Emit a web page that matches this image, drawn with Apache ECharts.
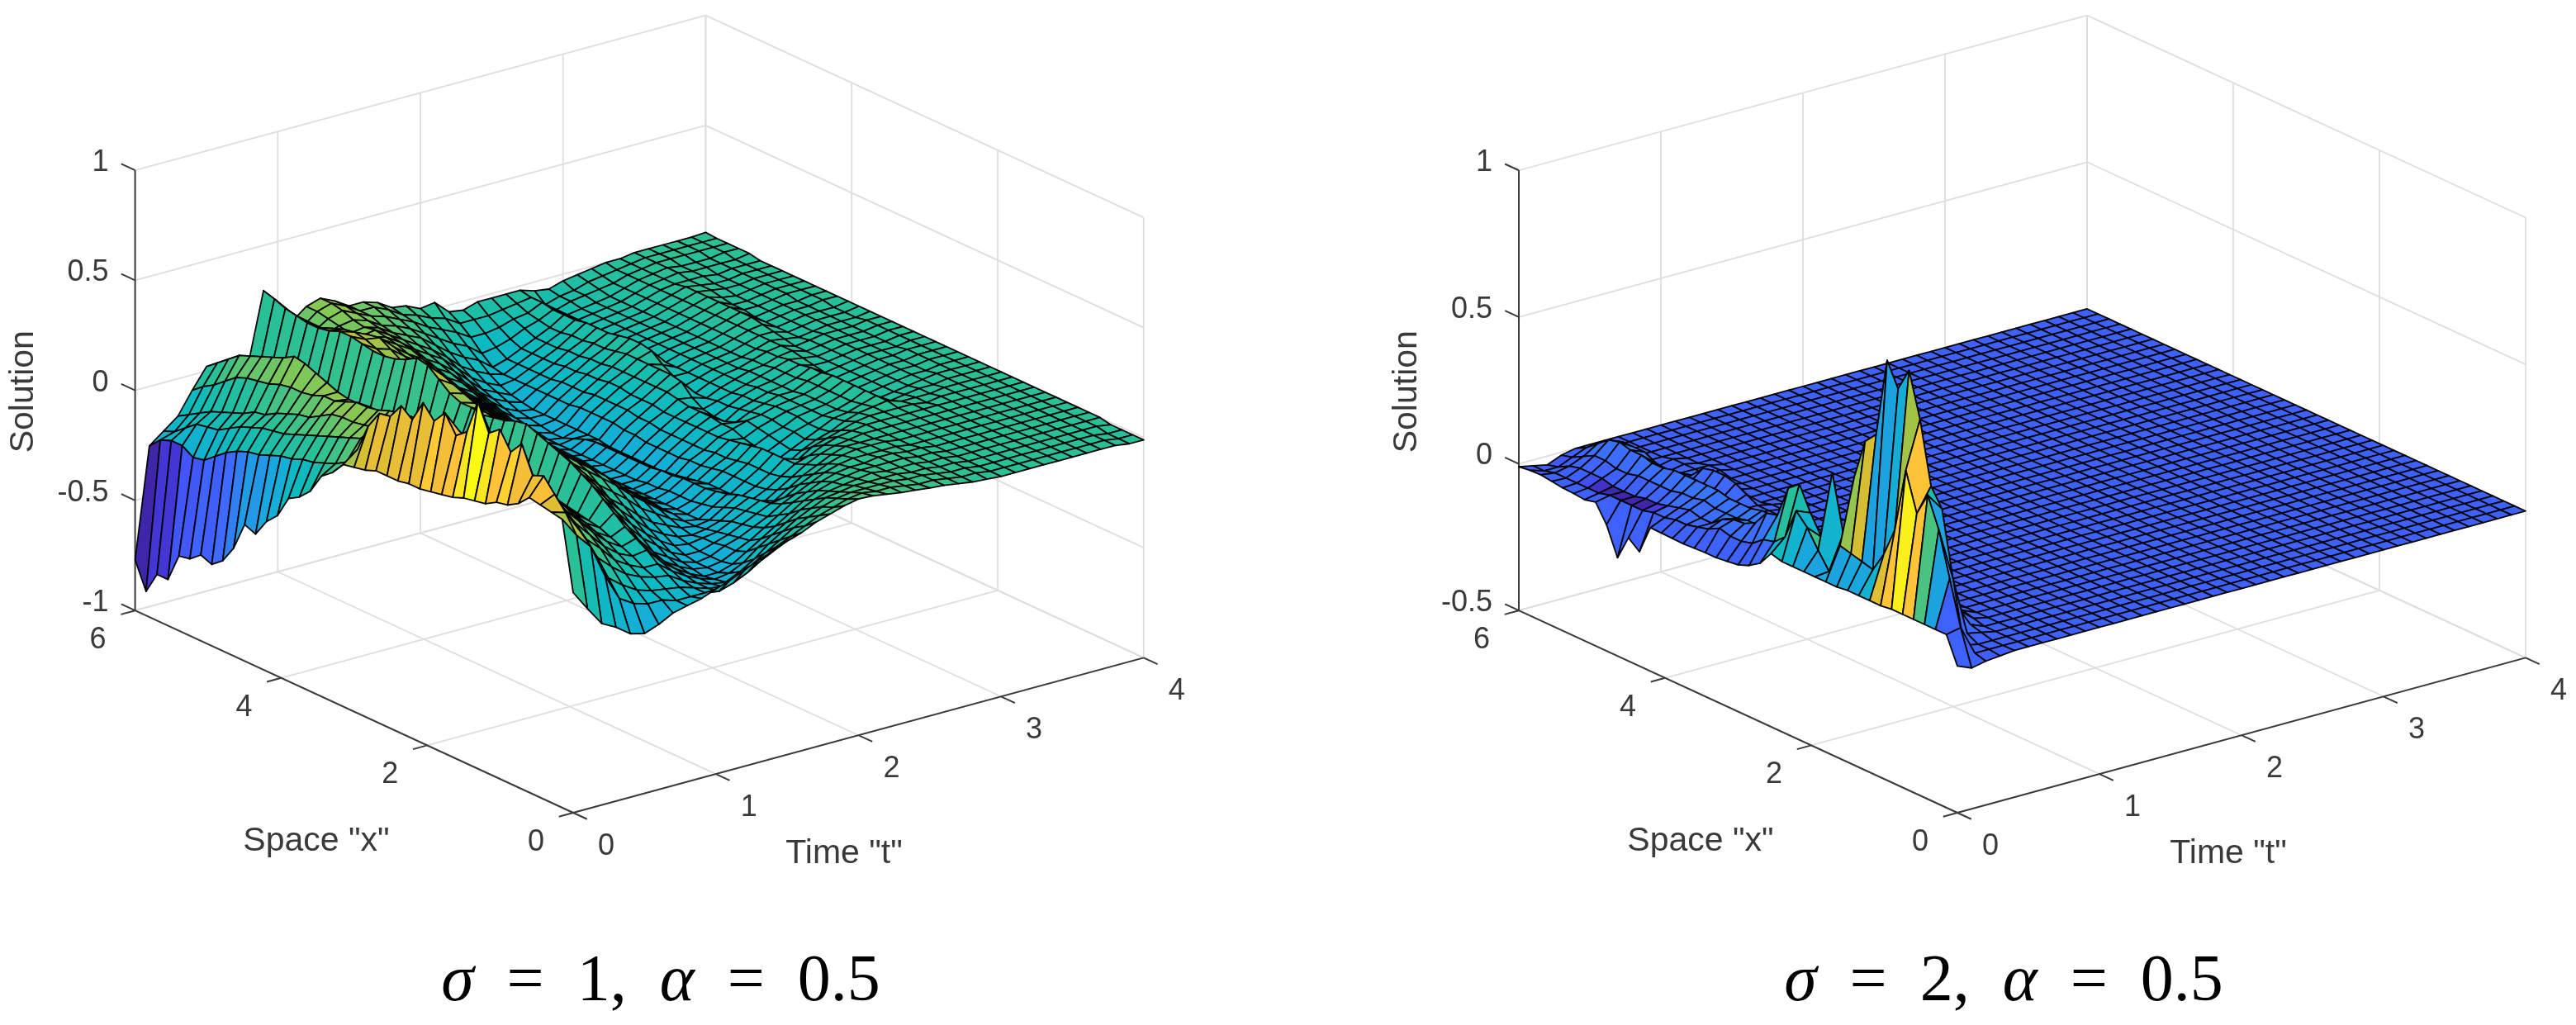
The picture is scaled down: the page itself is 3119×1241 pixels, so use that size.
<!DOCTYPE html>
<html>
<head>
<meta charset="utf-8">
<title>Solution surfaces</title>
<script src="https://cdn.jsdelivr.net/npm/echarts@6/dist/echarts.min.js"></script>
<style>
  html, body { margin: 0; background: #fff; }
  #chart { width: 3119px; height: 1241px; }
</style>
</head>
<body>
<div id="chart"></div>
<script>
// mesh positions
const timeSteps = [0,.1,.2,.3,.4,.5,.6,.7,.8,.9,1,1.1,1.2,1.3,1.4,1.5,1.6,1.7,1.8,1.9,2,2.1,2.2,2.3,2.4,2.5,2.6,2.7,2.8,2.9,3,3.1,3.2,3.3,3.4,3.5,3.6,3.7,3.8,3.9,4];
const spaceSteps = [0,.15,.3,.45,.6,.75,.9,1.05,1.2,1.35,1.5,1.65,1.8,1.95,2.1,2.25,2.4,2.55,2.7,2.85,3,3.15,3.3,3.45,3.6,3.75,3.9,4.05,4.2,4.35,4.5,4.65,4.8,4.95,5.1,5.25,5.4,5.55,5.7,5.85,6];

const timeTicks = [0, 1, 2, 3, 4];
const spaceTicks = [0, 2, 4, 6];
const solutionTicksA = [-1, -0.5, 0, 0.5, 1];
const solutionTicksB = [-0.5, 0, 0.5, 1];

// sigma = 1: one row per time step, columns run along space
const solutionA = [
[0,.31,.32,.33,.34, .29,.26,.25,.22,.21, .2,.18,.17,.16,.15, .15,.14,.14,.14,.12, .11,.1,.04,0,-.09, -.14,-.17,-.27,-.32,-.4, -.38,-.51,-.59,-.63,-.61, -.65,-.66,-.79,-.79,-.89, -.77],
[-.09,.22,.3,.36,.42, .4,.52,.46,.54,.5, .62,.46,.42,.5,.44, .5,.4,.44,.37,.36, .28,.15,.07,.04,.02, 0,-.01,-.03,-.04,-.06, -.08,-.09,-.11,-.14,-.18, -.22,-.23,-.2,-.2,-.22, -.27],
[-.175,.15,.2,.24,.28, .3,.32,.34,.36,.4, .44,.42,.38,.4,.36, .32,.3,.3,.28,.25, .2,.17,.16,.14,.12, .1,.08,.06,.04,.02, .01,0,-.02,-.04,-.07, -.1,-.11,-.12,-.16,-.2, -.22],
[-.21,0,.06,.12,.18, .22,.24,.27,.3,.32, .35,.33,.34,.3,.3, .28,.27,.27,.26,.24, .22,.21,.19,.18,.17, .17,.16,.13,.1,.09, .07,.05,.02,.01,-.02, -.04,-.06,-.08,-.11,-.14, -.17],
[-.257,-.12,-.05,.02,.08, .13,.17,.2,.22,.24, .25,.26,.26,.27,.28, .28,.28,.29,.28,.27, .27,.26,.25,.23,.22, .22,.2,.18,.18,.16, .15,.15,.14,.12,.11, .1,.08,.04,0,-.03, -.07],
[-.274,-.16,-.1,-.04,.02, .06,.1,.13,.15,.17, .18,.19,.2,.21,.22, .22,.21,.21,.2,.2, .19,.18,.18,.17,.17, .18,.17,.17,.18,.2, .22,.24,.25,.22,.2, .18,.16,.14,.1,.06, .02],
[-.25,-.18,-.14,-.09,-.05, -.01,.03,.05,.07,.09, .1,.11,.12,.12,.13, .13,.13,.12,.12,.11, .11,.1,.1,.1,.1, .1,.11,.1,.1,.11, .12,.13,.13,.12,.11, .1,.09,.08,.05,.03, .01],
[-.216,-.18,-.16,-.12,-.09, -.06,-.03,-.01,.01,.03, .04,.05,.06,.06,.06, .06,.06,.06,.05,.05, .05,.05,.05,.05,.05, .05,.05,.05,.05,.05, .05,.06,.06,.05,.05, .04,.04,.03,.02,.01, 0],
[-.2,-.2,-.17,-.14,-.12, -.09,-.07,-.05,-.03,-.02, -.01,0,.01,.01,.02, .02,.02,.02,.02,.02, .02,.03,.03,.03,.03, .03,.03,.03,.03,.02, .02,.02,.02,.02,.01, .01,.01,.01,0,0, 0],
[-.185,-.2,-.18,-.15,-.12, -.08,-.05,-.02,.02,.06, .1,.13,.16,.18,.2, .22,.24,.23,.21,.2, .19,.2,.2,.22,.26, .3,.31,.28,.26,.25, .25,.26,.27,.27,.25, .24,.24,.25,.26,.28, .295],
[-.16,-.2,-.2,-.19,-.17, -.15,-.13,-.1,-.06,-.02, .02,.06,.09,.11,.13, .14,.15,.15,.15,.15, .15,.16,.18,.2,.22, .24,.25,.24,.22,.2, .2,.22,.24,.25,.24, .22,.2,.2,.2,.21, .21],
[-.137,-.21,-.22,-.22,-.21, -.2,-.19,-.17,-.13,-.09, -.05,-.02,.02,.06,.08, .09,.1,.1,.1,.1, .1,.11,.12,.13,.15, .16,.18,.18,.17,.17, .17,.2,.23,.22,.2, .18,.15,.13,.12,.12, .12],
[-.11,-.19,-.23,-.24,-.24, -.24,-.23,-.21,-.18,-.15, -.11,-.07,-.03,.01,.03, .04,.05,.05,.05,.05, .05,.06,.07,.08,.09, .1,.12,.13,.13,.13, .13,.15,.17,.18,.17, .15,.14,.15,.16,.17, .17],
[-.08,-.16,-.21,-.25,-.26, -.27,-.26,-.25,-.23,-.2, -.17,-.13,-.08,-.04,-.02, -.01,0,0,0,0, 0,.01,.02,.03,.04, .05,.06,.07,.07,.08, .09,.11,.12,.14,.15, .16,.15,.16,.18,.19, .19],
[-.06,-.12,-.17,-.22,-.25, -.27,-.27,-.27,-.26,-.24, -.21,-.18,-.14,-.1,-.08, -.07,-.06,-.06,-.06,-.06, -.06,-.05,-.04,-.03,-.02, -.01,0,.01,.02,.03, .04,.06,.08,.1,.11, .12,.13,.14,.15,.16, .16],
[-.03,-.08,-.13,-.18,-.22, -.25,-.26,-.26,-.26,-.25, -.24,-.21,-.18,-.15,-.14, -.13,-.12,-.12,-.12,-.12, -.12,-.11,-.1,-.09,-.08, -.07,-.06,-.05,-.04,-.03, -.02,0,.02,.04,.06, .08,.09,.1,.12,.12, .12],
[-.01,-.05,-.09,-.13,-.17, -.21,-.23,-.23,-.24,-.24, -.25,-.24,-.22,-.2,-.19, -.18,-.18,-.18,-.18,-.18, -.18,-.17,-.16,-.15,-.14, -.13,-.12,-.11,-.1,-.08, -.06,-.04,-.02,0,.02, .04,.06,.08,.1,.12, .12],
[.02,-.02,-.05,-.09,-.13, -.17,-.2,-.21,-.22,-.23, -.24,-.25,-.25,-.24,-.24, -.23,-.23,-.23,-.23,-.23, -.23,-.22,-.21,-.2,-.2, -.19,-.18,-.17,-.16,-.14, -.12,-.1,-.08,-.05,-.02, 0,.03,.05,.07,.09, .1],
[.04,.01,-.02,-.05,-.09, -.13,-.16,-.18,-.19,-.2, -.22,-.24,-.26,-.26,-.26, -.26,-.26,-.26,-.26,-.26, -.26,-.26,-.25,-.25,-.25, -.24,-.23,-.22,-.21,-.2, -.18,-.16,-.14,-.11,-.08, -.05,-.02,.01,.04,.05, .06],
[.06,.03,.01,-.02,-.05, -.09,-.12,-.15,-.16,-.17, -.18,-.2,-.22,-.23,-.24, -.24,-.24,-.25,-.25,-.26, -.26,-.26,-.26,-.26,-.26, -.26,-.26,-.26,-.25,-.24, -.23,-.21,-.19,-.17,-.14, -.11,-.07,-.03,0,.03, .05],
[.073,.05,.03,.01,-.02, -.05,-.08,-.11,-.13,-.14, -.15,-.16,-.18,-.19,-.2, -.2,-.2,-.21,-.21,-.22, -.22,-.22,-.22,-.22,-.22, -.23,-.25,-.27,-.27,-.26, -.25,-.24,-.22,-.2,-.18, -.15,-.11,-.07,-.03,0, .02],
[.07,.06,.04,.02,0, -.02,-.05,-.08,-.12,-.16, -.19,-.2,-.21,-.22,-.22, -.22,-.23,-.24,-.25,-.26, -.26,-.26,-.26,-.26,-.26, -.25,-.25,-.25,-.25,-.25, -.25,-.25,-.24,-.23,-.21, -.18,-.14,-.1,-.06,-.02, .03],
[.06,.05,.04,.03,.01, 0,-.02,-.05,-.08,-.12, -.15,-.17,-.18,-.18,-.18, -.18,-.19,-.2,-.2,-.21, -.21,-.21,-.21,-.2,-.2, -.19,-.19,-.19,-.19,-.2, -.2,-.2,-.2,-.2,-.2, -.2,-.19,-.15,-.1,-.06, -.03],
[.05,.05,.04,.03,.02, .01,0,-.02,-.05,-.08, -.11,-.13,-.14,-.14,-.14, -.15,-.16,-.16,-.17,-.17, -.17,-.17,-.17,-.16,-.16, -.15,-.15,-.15,-.15,-.16, -.16,-.16,-.17,-.17,-.17, -.17,-.17,-.14,-.1,-.06, -.04],
[.043,.04,.04,.03,.03, .02,.01,0,-.02,-.05, -.07,-.09,-.09,-.09,-.09, -.1,-.11,-.12,-.13,-.13, -.13,-.13,-.13,-.13,-.12, -.12,-.12,-.11,-.11,-.12, -.12,-.13,-.13,-.14,-.14, -.14,-.14,-.12,-.09,-.06, -.02],
[.035,.03,.03,.03,.02, .02,.01,.01,0,-.02, -.04,-.07,-.11,-.15,-.16, -.15,-.14,-.13,-.11,-.11, -.1,-.1,-.1,-.09,-.08, -.08,-.08,-.08,-.08,-.08, -.09,-.09,-.1,-.1,-.11, -.11,-.11,-.09,-.07,-.05, -.02],
[.03,.03,.03,.02,.02, .02,.02,.01,.01,0, -.02,-.04,-.07,-.11,-.13, -.12,-.11,-.1,-.09,-.12, -.14,-.14,-.13,-.1,-.05, -.04,-.04,-.04,-.04,-.04, -.05,-.06,-.06,-.07,-.07, -.08,-.08,-.07,-.06,-.04, -.02],
[.02,.02,.02,.02,.02, .02,.02,.01,.01,0, -.01,-.02,-.05,-.08,-.1, -.09,-.09,-.08,-.08,-.09, -.1,-.11,-.11,-.12,-.12, -.11,-.09,-.06,-.02,-.01, -.01,-.02,-.03,-.03,-.03, -.04,-.04,-.04,-.03,-.03, -.02],
[.01,.01,.01,.01,.01, .01,.01,.01,.01,0, 0,-.01,-.03,-.06,-.07, -.07,-.06,-.06,-.06,-.07, -.08,-.08,-.09,-.09,-.09, -.09,-.09,-.09,-.09,-.09, -.08,-.08,-.08,-.08,-.08, -.08,-.08,-.08,-.08,-.08, -.04],
[.005,.01,.01,.01,.01, .01,.01,0,0,0, 0,0,-.01,-.03,-.04, -.05,-.05,-.05,-.05,-.05, -.06,-.06,-.07,-.07,-.07, -.07,-.07,-.07,-.07,-.07, -.07,-.07,-.07,-.07,-.07, -.07,-.07,-.07,-.06,-.06, -.05],
[0,0,0,0,0, 0,0,0,0,0, 0,0,0,-.01,-.03, -.04,-.04,-.04,-.04,-.05, -.05,-.05,-.05,-.05,-.06, -.06,-.06,-.06,-.06,-.06, -.06,-.06,-.06,-.06,-.06, -.06,-.06,-.06,-.05,-.05, -.03],
[0,0,0,0,0, 0,0,0,0,0, 0,0,0,0,-.01, -.02,-.02,-.02,-.02,-.02, -.03,-.03,-.03,-.04,-.04, -.05,-.05,-.05,-.05,-.05, -.05,-.05,-.05,-.05,-.05, -.05,-.05,-.05,-.04,-.03, -.02],
[0,0,0,0,0, 0,0,0,0,0, 0,0,0,.01,.01, .01,.01,.01,.01,0, 0,-.01,-.01,-.02,-.02, -.03,-.03,-.03,-.03,-.03, -.03,-.03,-.03,-.03,-.03, -.03,-.03,-.03,-.03,-.02, -.01],
[0,0,0,0,0, 0,0,0,0,0, 0,0,0,-.01,-.03, -.04,-.04,-.04,-.04,-.04, -.04,-.03,-.02,-.01,-.01, -.01,-.01,-.01,-.01,-.01, -.01,-.01,-.01,-.01,-.01, -.01,-.01,-.01,-.01,-.01, 0],
[0,0,0,0,0, 0,0,0,0,0, 0,0,-.01,-.01,-.02, -.03,-.03,-.03,-.03,-.03, -.03,-.03,-.03,-.03,-.03, -.02,-.01,0,.01,.01, .01,.01,.01,.01,.01, 0,0,0,0,0, 0],
[0,0,0,0,0, 0,0,0,0,0, 0,0,0,-.01,-.01, -.02,-.02,-.02,-.02,-.02, -.02,-.02,-.02,-.02,-.02, -.03,-.03,-.03,-.03,-.03, -.02,-.02,-.01,0,0, 0,.01,.01,.01,.01, .01],
[0,0,0,0,0, 0,0,0,0,0, 0,0,0,0,-.01, -.01,-.01,-.01,-.01,-.01, -.01,-.01,-.01,-.01,-.01, -.02,-.02,-.02,-.02,-.02, -.02,-.02,-.02,-.01,-.01, 0,0,0,.01,.01, .01],
[0,0,0,0,0, 0,0,0,0,0, 0,0,0,0,0, 0,-.01,-.01,-.01,-.01, -.01,-.01,-.01,-.01,-.01, -.01,-.01,-.01,-.01,-.01, -.01,-.01,-.01,-.01,-.01, -.01,0,0,.01,.01, .01],
[0,0,0,0,0, 0,0,0,0,0, 0,0,0,0,0, 0,0,0,0,0, -.01,-.01,-.01,-.01,-.01, -.01,-.01,-.01,-.01,-.01, 0,0,0,0,0, 0,0,0,.01,.01, .01],
[-.01,-.01,-.01,0,0, 0,0,0,0,0, 0,0,0,0,0, 0,0,0,0,0, 0,0,0,0,0, -.01,-.01,-.01,0,0, 0,0,0,0,0, 0,0,.01,.01,.01, .01],
[-.01,-.01,-.01,-.01,0, 0,0,0,0,0, 0,0,0,0,0, 0,0,0,0,0, 0,0,0,0,0, 0,0,0,0,0, 0,0,0,0,0, 0,.01,.01,.01,.01, .014]
];

// colour values of the first strip of cells, the steep wall along t = 0
const wallColourA = [0,.22,.36,.44,.4, .42,.5,.46,.55,.6, .55,.46,.42,.48,.38, .4,.38,.36,.38,.33, .22,.15,.04,0,-.09, -.14,-.17,-.27,-.32,-.4, -.38,-.51,-.59,-.63,-.61, -.65,-.66,-.79,-.79,-.89, -.77];

// sigma = 2: almost flat away from the front corner
const flatRowB = [0,0,0,0,0, 0,0,0,0,0, 0,0,0,0,0, 0,0,0,0,0, 0,0,0,0,0, 0,0,0,0,0, 0,0,0,0,0, 0,0,0,0,0, 0];
const solutionB = [
[0,.09,.09,.09,.09, .09,.09,.085,.085,.085, .085,.08,.08,.08,.08, .08,.08,.09,.04,.015, 0,-.005,-.01,-.01,-.012, -.014,-.013,-.012,-.011,-.11, -.08,-.165,-.07,-.01,-.019, -.015,-.013,-.008,-.003,-.005, -.01],
[-.02,.1,.25,.4,.5, .42,.55,.33,.23,.16, .17,.18,.19,.085,.14, .2,.24,.134,.1,.09, .06,.05,.05,.06,.04, .03,.02,.02,.01,.01, 0,0,0,0,-.01, -.01,-.01,-.01,-.01,-.02, -.02],
[-.01,0,.01,.22,.44, .5,.71,.86,.78,.86, .59,.55,.41,.2,.39, .155,.22,.3,.27,.16, .15,.1,.08,.076,.06, .03,.03,.04,.03,.02, .01,.01,0,0,0, .01,.01,.01,0,-.02, -.03],
[-.005,0,0,.02,.1, .22,.3,.35,.3,.28, .3,.18,.12,.08,.1, .08,.08,.1,.12,.08, .07,.07,.06,.06,.05, .05,.05,.06,.05,.05, .04,.04,.04,.04,.03, .03,.04,.04,.02,0, -.01],
[0,0,0,.01,.02, .05,.08,.1,.08,.06, .06,.05,.04,.03,.03, .03,.03,.04,.05,.07, .09,.08,.08,.08,.07, .07,.07,.08,.08,.08, .08,.08,.07,.07,.08, .08,.09,.08,.05,.02, 0],
[0,0,0,0,0, .01,.02,.02,.02,.01, .01,.01,.01,.01,.01, .01,.01,.02,.02,.02, .03,.03,.03,.02,.02, .02,.02,.02,.02,.02, .02,.02,.02,.03,.04, .06,.06,.06,.02,0, 0],
[0,0,0,0,0, 0,0,0,0,0, 0,0,0,0,0, 0,0,.01,.01,.01, .01,.01,.01,.02,.02, .02,.02,.04,.06,.07, .07,.06,.02,.01,0, 0,0,0,0,0, 0],
[0,0,0,0,0, 0,0,0,0,0, 0,0,0,0,0, 0,0,0,0,0, 0,0,0,0,.01, .01,.01,0,0,.01, .01,.01,.01,.01,.01, .01,0,0,0,0, 0],
[0,0,0,0,0, 0,0,0,0,0, 0,0,0,0,0, 0,0,0,0,0, 0,0,0,0,0, 0,0,0,0,0, 0,0,.01,.01,0, 0,0,0,0,0, 0],
flatRowB,flatRowB,flatRowB,flatRowB,flatRowB,flatRowB,flatRowB,flatRowB,flatRowB,flatRowB,flatRowB,flatRowB,
flatRowB,flatRowB,flatRowB,flatRowB,flatRowB,flatRowB,flatRowB,flatRowB,flatRowB,flatRowB,flatRowB,flatRowB,
flatRowB,flatRowB,flatRowB,flatRowB,flatRowB,flatRowB,flatRowB,flatRowB
];

const wallColourB = [0,0,.2,.5,.8, .88,.8,.72,.3,.22, .22,.2,.22,.2,.22, .3,.35,.25,.02,0, 0,0,0,0,0, 0,0,0,0,0, 0,0,0,0,0, 0,0,0,0,0, 0];
const ridgeColourB = [0,0,.1,.2,.4, .8,.62,.25,.2,.2, .7,.6,.45,.3,.48, .3,.4,.45,.2,.05, .03,.03,.03,.03,.02, .02,.02,.01,.01,-.1, -.2,-.19,-.2,-.19,-.15, -.05,0,0,0,0, 0];

// parula-like colour ramp, evenly spaced
const parulaColours = [[62,38,168],[70,62,235],[62,105,255],[40,145,235],[22,172,218],[12,186,192],[42,192,150],[128,200,88],[205,190,48],[255,190,58],[249,251,21]];

function parula(f) {
  f = Math.min(1, Math.max(0, f)) * (parulaColours.length - 1);
  const k = Math.min(parulaColours.length - 2, Math.floor(f));
  const a = parulaColours[k], b = parulaColours[k + 1], w = f - k;
  return 'rgb(' + a.map((v, n) => Math.round(v + (b[n] - v) * w)).join(',') + ')';
}

// oblique view of each box, in page pixels per data unit
const panelA = {
  origin: [694, 984], tStep: [172.7, -46.9], xStep: [-88.4, -40.8], zStep: -266.5, zMin: -1, zMax: 1,
  zTicks: solutionTicksA, data: solutionA, cMin: -.89, cMax: .6, colourRows: {0: wallColourA}
};
const panelB = {
  origin: [2370, 984], tStep: [172, -46.9], xStep: [-88.5, -40.8], zStep: -355.3, zMin: -.5, zMax: 1,
  zTicks: solutionTicksB, data: solutionB, cMin: -.2, cMax: .9, colourRows: {0: wallColourB, 1: ridgeColourB}
};

function project(p, t, x, z) {
  return [
    p.origin[0] + p.tStep[0] * t + p.xStep[0] * x,
    p.origin[1] + p.tStep[1] * t + p.xStep[1] * x + p.zStep * (z - p.zMin)
  ];
}

// back to front so nearer cells paint over farther ones
function surfaceSeries(p) {
  const cells = [];
  for (let i = timeSteps.length - 2; i >= 0; i--) {
    for (let j = spaceSteps.length - 2; j >= 0; j--) {
      const z = p.data;
      const c = p.colourRows[i] ? p.colourRows[i][j] : z[i][j];
      cells.push([
        timeSteps[i], spaceSteps[j], z[i][j],
        timeSteps[i + 1], spaceSteps[j], z[i + 1][j],
        timeSteps[i + 1], spaceSteps[j + 1], z[i + 1][j + 1],
        timeSteps[i], spaceSteps[j + 1], z[i][j + 1],
        c
      ]);
    }
  }
  return {
    type: 'custom',
    data: cells,
    z: 5,
    silent: true,
    clip: false,
    animation: false,
    progressive: 0,
    renderItem: (params, api) => {
      const points = [0, 3, 6, 9].map(k => api.coord(project(p, api.value(k), api.value(k + 1), api.value(k + 2))));
      return {
        type: 'polygon',
        shape: { points },
        style: {
          fill: parula((api.value(12) - p.cMin) / (p.cMax - p.cMin)),
          stroke: '#050505',
          lineWidth: 1.8,
          lineJoin: 'round'
        }
      };
    }
  };
}

function segmentSeries(p, segments, colour, width, z) {
  return {
    type: 'custom',
    data: segments,
    z,
    silent: true,
    clip: false,
    animation: false,
    renderItem: (params, api) => {
      const a = api.coord(project(p, api.value(0), api.value(1), api.value(2)));
      const b = api.coord(project(p, api.value(3), api.value(4), api.value(5)));
      return {
        type: 'line',
        shape: { x1: a[0], y1: a[1], x2: b[0], y2: b[1] },
        style: { stroke: colour, lineWidth: width }
      };
    }
  };
}

function textSeries(p, items) {
  return {
    type: 'custom',
    data: items.map((d, n) => [d.t, d.x, d.z, n]),
    z: 8,
    silent: true,
    clip: false,
    animation: false,
    renderItem: (params, api) => {
      const d = items[api.value(3)];
      const c = api.coord(project(p, api.value(0), api.value(1), api.value(2)));
      return {
        type: 'text',
        x: c[0] + d.dx,
        y: c[1] + d.dy,
        rotation: d.rotate || 0,
        style: {
          text: d.text,
          fontFamily: 'Liberation Sans',
          fontSize: d.size,
          fill: '#3a3a3a',
          align: d.align || 'center',
          verticalAlign: 'middle'
        }
      };
    }
  };
}

function panelSeries(p) {
  const zLow = p.zMin, zTop = p.zMax;
  const grid = [];
  timeTicks.forEach(t => {
    grid.push([t, 0, zLow, t, 6, zLow]);
    if (t > 0) grid.push([t, 6, zLow, t, 6, zTop]);
  });
  spaceTicks.forEach(x => {
    grid.push([0, x, zLow, 4, x, zLow]);
    grid.push([4, x, zLow, 4, x, zTop]);
  });
  p.zTicks.forEach(z => {
    grid.push([0, 6, z, 4, 6, z]);
    grid.push([4, 6, z, 4, 0, z]);
  });

  const axes = [[0, 6, zLow, 0, 6, zTop], [0, 6, zLow, 0, 0, zLow], [0, 0, zLow, 4, 0, zLow]];
  const tickSize = 0.19, tickSizeT = 0.1;
  p.zTicks.forEach(z => axes.push([0, 6, z, 0, 6 + tickSize, z]));
  spaceTicks.forEach(x => axes.push([0, x, zLow, -tickSizeT, x, zLow]));
  timeTicks.forEach(t => axes.push([t, 0, zLow, t, -tickSize, zLow]));

  const labels = [];
  p.zTicks.forEach(z => labels.push({ t: 0, x: 6, z, dx: -32, dy: -9, text: String(z), size: 36, align: 'right' }));
  spaceTicks.forEach(x => labels.push({ t: 0, x, z: zLow, dx: -45, dy: 36, text: String(x), size: 36 }));
  timeTicks.forEach(t => labels.push({ t, x: 0, z: zLow, dx: 40, dy: 40.6, text: String(t), size: 36 }));
  labels.push({ t: 0, x: 0, z: zLow, dx: -311, dy: 35, text: 'Space "x"', size: 41 });
  labels.push({ t: 0, x: 0, z: zLow, dx: 328, dy: 50, text: 'Time "t"', size: 41 });
  labels.push({ t: 0, x: 6, z: (zLow + zTop) / 2, dx: -135, dy: 1.5, text: 'Solution', size: 41, rotate: Math.PI / 2 });

  return [
    segmentSeries(p, grid, '#dedede', 1.8, 1),
    segmentSeries(p, axes, '#3a3a3a', 2, 2),
    surfaceSeries(p),
    textSeries(p, labels)
  ];
}

const captionStyle = {
  fontFamily: 'Liberation Serif',
  fontWeight: 'normal',
  fontSize: 80,
  color: '#000',
  rich: { i: { fontFamily: 'Liberation Serif', fontStyle: 'italic', fontWeight: 'normal', fontSize: 80, color: '#000' } }
};

const chart = echarts.init(document.getElementById('chart'), null, { renderer: 'canvas' });
chart.setOption({
  backgroundColor: '#fff',
  animation: false,
  title: [
    { text: '{i|σ}\u2002=\u20021,\u2002{i|α}\u2002=\u20020.5', left: 795, top: 1145, textAlign: 'center', textStyle: captionStyle },
    { text: '{i|σ}\u2002=\u20022,\u2002{i|α}\u2002=\u20020.5', left: 2421, top: 1145, textAlign: 'center', textStyle: captionStyle }
  ],
  grid: { left: 0, top: 0, width: 3119, height: 1241 },
  xAxis: { type: 'value', min: 0, max: 3119, show: false },
  yAxis: { type: 'value', min: 0, max: 1241, inverse: true, show: false },
  series: [...panelSeries(panelA), ...panelSeries(panelB)]
});
</script>
</body>
</html>
